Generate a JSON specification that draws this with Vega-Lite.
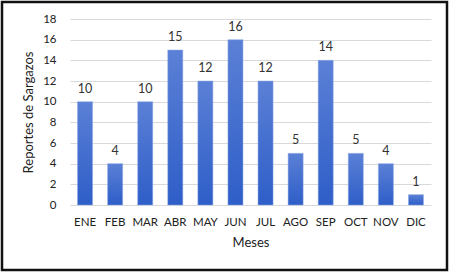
{
  "$schema": "https://vega.github.io/schema/vega-lite/v6.json",
  "width": 445,
  "height": 268,
  "autosize": {"type": "none"},
  "padding": {"left": 2, "top": 2, "right": 3, "bottom": 4},
  "background": "white",
  "config": {
    "view": {"stroke": "#111111", "strokeWidth": 2.5},
    "font": "Lato"
  },
  "data": {
    "values": [
      {"mes": "ENE", "reportes": 10},
      {"mes": "FEB", "reportes": 4},
      {"mes": "MAR", "reportes": 10},
      {"mes": "ABR", "reportes": 15},
      {"mes": "MAY", "reportes": 12},
      {"mes": "JUN", "reportes": 16},
      {"mes": "JUL", "reportes": 12},
      {"mes": "AGO", "reportes": 5},
      {"mes": "SEP", "reportes": 14},
      {"mes": "OCT", "reportes": 5},
      {"mes": "NOV", "reportes": 4},
      {"mes": "DIC", "reportes": 1}
    ]
  },
  "encoding": {
    "x": {
      "field": "mes",
      "type": "nominal",
      "sort": null,
      "scale": {"range": [68, 429], "paddingInner": 0.5, "paddingOuter": 0.25},
      "axis": {
        "title": "Meses",
        "offset": -65,
        "labelAngle": 0,
        "labelPadding": 11,
        "labelFontSize": 11.5,
        "labelColor": "#222222",
        "titleFontSize": 13,
        "titleFontWeight": "normal",
        "titleColor": "#222222",
        "titlePadding": 9,
        "ticks": false,
        "domain": false,
        "grid": false
      }
    },
    "y": {
      "field": "reportes",
      "type": "quantitative",
      "scale": {"domain": [0, 18], "range": [203, 17], "nice": false},
      "axis": {
        "title": "Reportes de Sargazos",
        "offset": -68,
        "values": [0, 2, 4, 6, 8, 10, 12, 14, 16, 18],
        "labelPadding": 14,
        "labelFontSize": 11.5,
        "labelColor": "#222222",
        "titleFontSize": 13,
        "titleFontWeight": "normal",
        "titleColor": "#222222",
        "titlePadding": 7,
        "ticks": false,
        "domain": false,
        "grid": true,
        "gridColor": "#d9d9d9",
        "gridWidth": 1
      }
    }
  },
  "layer": [
    {
      "mark": {
        "type": "bar",
        "color": {
          "gradient": "linear",
          "x1": 0, "y1": 0, "x2": 0, "y2": 1,
          "stops": [
            {"offset": 0, "color": "#5b80d6"},
            {"offset": 1, "color": "#2e5ec8"}
          ]
        },
        "stroke": "#8fa8e6",
        "strokeWidth": 0.5
      }
    },
    {
      "mark": {"type": "text", "baseline": "bottom", "dy": -6, "fontSize": 12.5, "color": "#333333"},
      "encoding": {"text": {"field": "reportes", "type": "quantitative"}}
    }
  ]
}
